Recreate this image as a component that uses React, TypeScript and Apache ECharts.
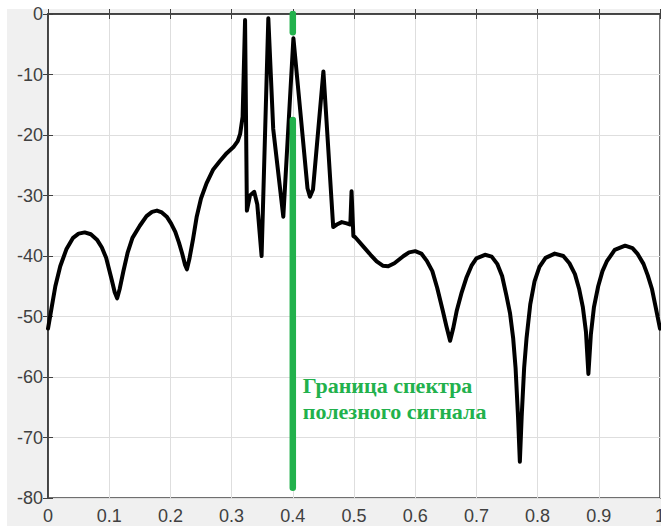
import React, { useEffect, useRef } from "react";
import * as echarts from "echarts";

// Normalised frequency (fraction of Nyquist) and spectrum level, dB
const freqs = [
  0.0, 0.006, 0.012, 0.02, 0.03, 0.041, 0.05, 0.06, 0.07, 0.08, 0.088, 0.095,
  0.104, 0.109, 0.113, 0.117, 0.123, 0.13, 0.138, 0.15, 0.161, 0.17, 0.178,
  0.186, 0.194, 0.201, 0.208, 0.214, 0.219, 0.224, 0.227, 0.231, 0.237, 0.243,
  0.25, 0.259, 0.27, 0.281, 0.292, 0.303, 0.31, 0.314, 0.318, 0.322, 0.325,
  0.33, 0.337, 0.342, 0.349, 0.36, 0.368, 0.3845, 0.401, 0.412, 0.424, 0.428,
  0.433, 0.45, 0.466, 0.472, 0.48, 0.488, 0.494, 0.496, 0.499, 0.502, 0.515,
  0.527, 0.537, 0.547, 0.556, 0.566, 0.581, 0.59, 0.6, 0.61, 0.619, 0.628,
  0.636, 0.645, 0.651, 0.657, 0.662, 0.668, 0.676, 0.684, 0.692, 0.7, 0.714,
  0.725, 0.734, 0.742, 0.749, 0.755, 0.76, 0.764, 0.768, 0.771, 0.774, 0.778,
  0.782, 0.788, 0.795, 0.803, 0.813, 0.828, 0.842, 0.852, 0.861, 0.868, 0.874,
  0.879, 0.883, 0.887, 0.892, 0.899, 0.906, 0.913, 0.926, 0.943, 0.955, 0.963,
  0.973, 0.98, 0.987, 0.993, 1.0,
];
const levels = [
  -52.0, -48.5, -45.0, -41.7, -38.9, -37.0, -36.3, -36.1, -36.4, -37.3, -38.6,
  -40.3, -43.9, -46.0, -47.0, -45.5, -42.6, -39.5, -37.0, -35.0, -33.4, -32.7,
  -32.5, -32.8, -33.5, -34.6, -36.0, -37.8, -39.5, -41.5, -42.2, -40.5, -37.2,
  -33.5, -30.5, -28.0, -25.7, -24.3, -23.0, -22.0, -21.0, -19.8, -17.0, -1.0,
  -32.5, -30.0, -29.4, -31.5, -40.0, -0.7, -19.0, -33.5, -4.0, -15.8, -28.8,
  -30.2, -29.0, -9.5, -35.2, -34.8, -34.4, -34.6, -34.8, -29.3, -36.7, -36.9,
  -38.4, -39.8, -40.9, -41.6, -41.7, -41.2, -40.0, -39.4, -39.2, -39.6, -40.8,
  -42.5, -45.3, -49.0, -51.6, -54.0, -52.0, -49.0, -46.0, -43.5, -41.6, -40.4,
  -39.8, -40.1, -41.3, -43.3, -46.5, -49.5, -53.5, -58.5, -66.5, -74.0, -66.5,
  -58.5, -53.5, -48.0, -44.2, -41.8, -40.3, -39.6, -40.0, -41.2, -43.0, -45.5,
  -48.5, -52.5, -59.5, -53.0, -48.5, -45.0, -42.5, -40.9, -39.0, -38.3, -38.7,
  -39.6, -41.3, -43.2, -45.5, -48.5, -52.0,
];

// Boundary of the useful-signal band (drawn as two pieces of one vertical bar)
const boundaryFreq = 0.4;
const boundaryUpper = [0, -3];
const boundaryLower = [-17.5, -78.3];
const boundaryLabel = ["Граница спектра", "полезного сигнала"];
const labelLevel = -63.5;

const xTicks = [0, 0.1, 0.2, 0.3, 0.4, 0.5, 0.6, 0.7, 0.8, 0.9, 1];
const yTicks = [-80, -70, -60, -50, -40, -30, -20, -10, 0];

const GREEN = "#22b14c";
const AXIS = "#404040";
const GRID = "#dedede";

export default function App() {
  const ref = useRef<HTMLDivElement>(null);

  useEffect(() => {
    if (!ref.current) return;
    const chart = echarts.init(ref.current, null, { renderer: "svg" });

    const inner = () => ({
      show: true,
      inside: true,
      length: 5,
      lineStyle: { color: AXIS, width: 1 },
    });

    chart.setOption({
      animation: false,
      backgroundColor: "transparent",
      grid: {
        left: 48,
        top: 14,
        right: 1,
        bottom: 28,
        outerBoundsMode: "none",
        containLabel: false,
        show: true,
        backgroundColor: "#ffffff",
        borderColor: AXIS,
        borderWidth: 1.5,
      },
      xAxis: [
        {
          type: "value",
          min: xTicks[0],
          max: xTicks[xTicks.length - 1],
          interval: 0.1,
          axisLine: { show: true, lineStyle: { color: AXIS, width: 1.5 } },
          axisTick: inner(),
          axisLabel: {
            color: AXIS,
            fontSize: 18,
            fontFamily: "Arial, Liberation Sans, sans-serif",
            margin: 9,
            formatter: (v: number) => {
              const t = xTicks.find((k) => Math.abs(k - v) < 1e-6);
              return t === undefined ? "" : String(t);
            },
          },
          splitLine: { show: true, lineStyle: { color: GRID, width: 1 } },
        },
        {
          type: "value",
          position: "top",
          min: xTicks[0],
          max: xTicks[xTicks.length - 1],
          interval: 0.1,
          axisLine: { show: true, lineStyle: { color: AXIS, width: 1.5 } },
          axisTick: inner(),
          axisLabel: { show: false },
          splitLine: { show: false },
        },
      ],
      yAxis: [
        {
          type: "value",
          min: yTicks[0],
          max: yTicks[yTicks.length - 1],
          interval: 10,
          axisLine: { show: true, lineStyle: { color: AXIS, width: 1.5 } },
          axisTick: inner(),
          axisLabel: {
            color: AXIS,
            fontSize: 18,
            fontFamily: "Arial, Liberation Sans, sans-serif",
            margin: 5,
          },
          splitLine: { show: true, lineStyle: { color: GRID, width: 1 } },
        },
        {
          type: "value",
          position: "right",
          min: yTicks[0],
          max: yTicks[yTicks.length - 1],
          interval: 10,
          axisLine: { show: true, lineStyle: { color: AXIS, width: 1.5 } },
          axisTick: inner(),
          axisLabel: { show: false },
          splitLine: { show: false },
        },
      ],
      series: [
        {
          type: "line",
          data: freqs.map((f, i) => [f, levels[i]]),
          showSymbol: false,
          symbol: "none",
          lineStyle: { color: "#000000", width: 4, join: "round", cap: "round" },
          z: 3,
        },
        {
          type: "line",
          data: boundaryUpper.map((v) => [boundaryFreq, v]),
          symbol: "none",
          lineStyle: { color: GREEN, width: 6.5, cap: "round" },
          z: 4,
        },
        {
          type: "line",
          data: boundaryLower.map((v) => [boundaryFreq, v]),
          symbol: "none",
          lineStyle: { color: GREEN, width: 6.5, cap: "round" },
          z: 4,
        },
      ],
    });

    // Caption placed just right of the boundary bar
    const [px, py] = chart.convertToPixel({ xAxisIndex: 0, yAxisIndex: 0 }, [
      boundaryFreq,
      labelLevel,
    ]);
    chart.setOption({
      graphic: [
        {
          type: "text",
          x: px + 10,
          y: py,
          z: 10,
          style: {
            text: boundaryLabel.join("\n"),
            fill: GREEN,
            font: "bold 22px 'Liberation Serif', 'Times New Roman', serif",
            lineHeight: 26,
            textAlign: "left",
            textVerticalAlign: "middle",
          },
        },
      ],
    });

    return () => chart.dispose();
  }, []);

  return (
    <div
      style={{
        position: "fixed",
        left: 0,
        top: 0,
        width: 661,
        height: 526,
        background: "#ffffff",
        overflow: "hidden",
      }}
    >
      <div
        style={{
          position: "absolute",
          left: 7,
          top: 9,
          right: 0,
          bottom: 0,
          background: "#f0f0f0",
        }}
      />
      <div
        ref={ref}
        style={{ position: "absolute", left: 0, top: 0, width: 661, height: 526 }}
      />
    </div>
  );
}
